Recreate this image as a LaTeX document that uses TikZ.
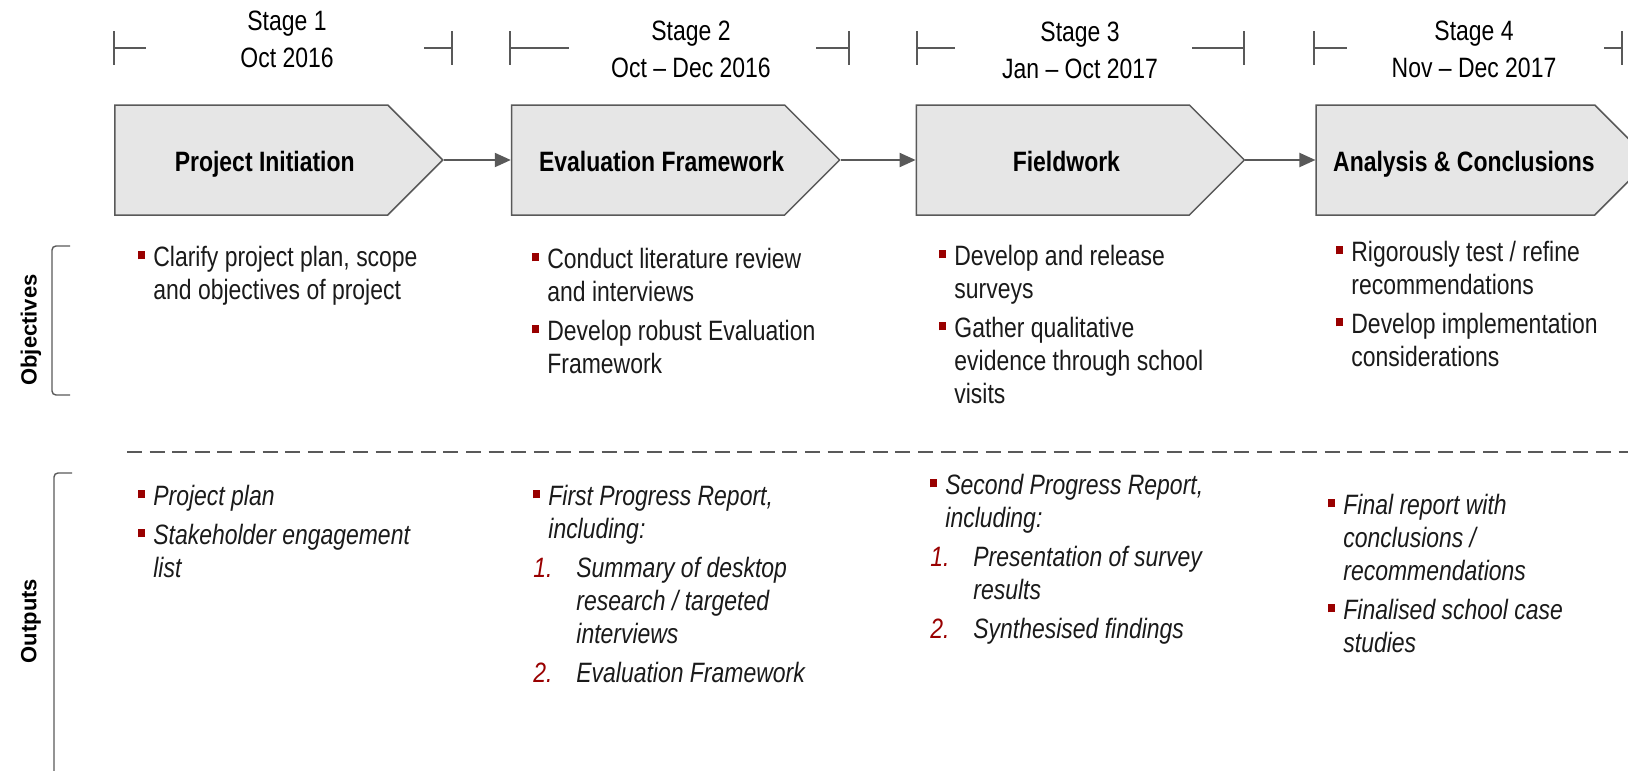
\documentclass[tikz,border=0pt]{standalone}
\usepackage{fontspec}
\setmainfont{Liberation Sans}[FakeStretch=0.82]
\newfontfamily\widesans{Liberation Sans}
\usetikzlibrary{arrows.meta,positioning,shapes.symbols}

\definecolor{bulred}{HTML}{990000}
\definecolor{boxgray}{HTML}{E6E6E6}
\definecolor{linegray}{HTML}{595959}
\definecolor{txtblack}{HTML}{1A1A1A}

\newcommand{\bul}{\textcolor{bulred}{\rule[3.5pt]{3.4pt}{4.2pt}}}
\newcommand{\itm}[1]{\par\hangindent=7.5pt\relax\hangafter=1\relax\noindent\makebox[7.5pt][l]{\strut\bul}#1\par}
\newcommand{\numitm}[2]{\par\hangindent=21.5pt\relax\hangafter=1\relax\noindent\makebox[21.5pt][l]{\strut\textcolor{bulred}{#1}}#2\par}

\begin{document}
\begin{tikzpicture}[
		x=0.5pt, y=-0.5pt,
		stagebox/.style={signal, signal to=east, signal pointer angle=90, draw=linegray, line width=0.75pt, fill=boxgray, minimum width=164pt, minimum height=55pt, inner sep=0pt, text height=14pt, text depth=3pt, execute at begin node={\hspace*{13.5pt}}, font=\bfseries\fontsize{14}{16}\selectfont},
		flow/.style={draw=linegray, line width=1pt, -{Triangle[length=8pt,width=7pt]}},
		stagelbl/.style={align=center, inner sep=0pt, font=\fontsize{14}{18.5}\selectfont},
		stagespan/.style={draw=linegray, line width=0.7pt},
		sidelbl/.style={rotate=90, inner sep=0pt, font=\widesans\bfseries\fontsize{11}{13}\selectfont},
		brace/.style={draw=linegray, line width=0.7pt, rounded corners=2pt},
		divider/.style={draw=linegray, line width=0.75pt, dash pattern=on 7.5pt off 3.8pt},
		txt/.style={anchor=north west, inner sep=0pt, text width=190pt, align=left, text=txtblack, font=\fontsize{14}{16.5}\selectfont, execute at begin node={\spaceskip=0pt\xspaceskip=0pt\setlength{\parskip}{3pt}}},
		outtxt/.style={txt, font=\fontsize{14}{16.5}\selectfont\itshape},
	]
		\useasboundingbox (0,0) rectangle (1628,771);

		% stage boxes
		\node[stagebox, anchor=west] (init) at (114,160) {Project Initiation};
		\node[stagebox, right=33.5pt of init] (frame) {Evaluation Framework};
		\node[stagebox, right=37.5pt of frame] (field) {Fieldwork};
		\node[stagebox, right=35pt of field, execute at begin node={\hspace*{-5pt}}] (concl) {Analysis \& Conclusions};

		\draw[flow] (init.east) -- (frame.west);
		\draw[flow] (frame.east) -- (field.west);
		\draw[flow] (field.east) -- (concl.west);

		% timing
		\node[stagelbl] (s1) at (287,39) {Stage 1\\Oct 2016};
		\node[stagelbl] (s2) at (691,49) {Stage 2\\Oct -- Dec 2016};
		\node[stagelbl] (s3) at (1080,50) {Stage 3\\Jan -- Oct 2017};
		\node[stagelbl] (s4) at (1474,49) {Stage 4\\Nov -- Dec 2017};
		\foreach \l/\lw/\rw/\r in {114/146/424/452, 510/569/816/849, 917/955/1192/1244, 1314/1347/1604/1622}{
			\draw[stagespan] (\l,31) -- (\l,65) (\l,48) -- (\lw,48);
			\draw[stagespan] (\rw,48) -- (\r,48) (\r,31) -- (\r,65);
		}

		% rows
		\node[sidelbl] (obj) at (31,330) {Objectives};
		\node[sidelbl] (outp) at (31,621) {Outputs};
		\draw[brace] (70,246) -- (52,246) -- (52,395) -- (70,395);
		\draw[brace] (72,473) -- (54,473) -- (54,790);
		\draw[divider] (127,452) -- (1640,452);

		% objectives
		\node[txt] (o1) at (138,227) {\itm{Clarify project plan, scope\newline and objectives of project}};
		\node[txt] (o2) at (532,229) {\itm{Conduct literature review\newline and interviews}\itm{Develop robust Evaluation\newline Framework}};
		\node[txt] (o3) at (939,226) {\itm{Develop and release\newline surveys}\itm{Gather qualitative\newline evidence through school\newline visits}};
		\node[txt] (o4) at (1336,222) {\itm{Rigorously test / refine\newline recommendations}\itm{Develop implementation\newline considerations}};

		% outputs
		\node[outtxt] (p1) at (138,466) {\itm{Project plan}\itm{Stakeholder engagement\newline list}};
		\node[outtxt] (p2) at (533,466) {\itm{First Progress Report,\newline including:}\numitm{1.}{Summary of desktop\newline research / targeted\newline interviews}\numitm{2.}{Evaluation Framework}};
		\node[outtxt] (p3) at (930,455) {\itm{Second Progress Report,\newline including:}\numitm{1.}{Presentation of survey\newline results}\numitm{2.}{Synthesised findings}};
		\node[outtxt] (p4) at (1328,475) {\itm{Final report with\newline conclusions /\newline recommendations}\itm{Finalised school case\newline studies}};
	\end{tikzpicture}
\end{document}
